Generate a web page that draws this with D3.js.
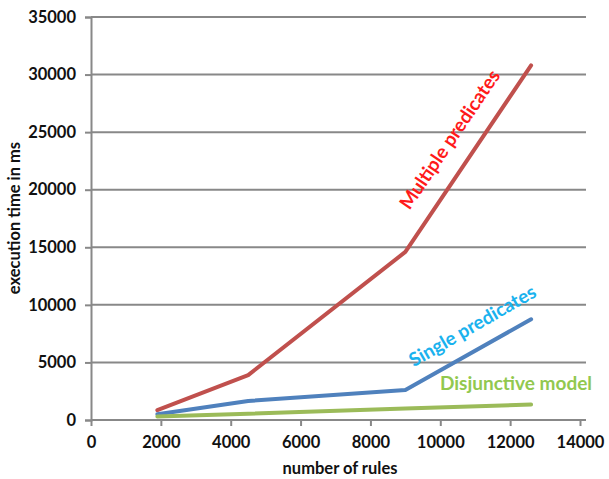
<!DOCTYPE html>
<html><head><meta charset="utf-8">
<script src="https://cdn.jsdelivr.net/npm/d3@7"></script>
<style>body{margin:0;background:#fff}svg{display:block}</style>
</head><body>
<script>
const rules = [1900, 4500, 9000, 12600];
const multiple = [850, 3900, 14600, 30800];
const single = [500, 1650, 2600, 8750];
const disjunctive = [300, 550, 1000, 1350];
const xTicks = [0,2000,4000,6000,8000,10000,12000,14000];
const yTicks = [0,5000,10000,15000,20000,25000,30000,35000];
const seriesNames = ["Multiple predicates","Single predicates","Disjunctive model"];

const W=609,H=479;
const svg=d3.select("body").append("svg").attr("width",W).attr("height",H);
const x=d3.scaleLinear().domain([0,14000]).range([91,580]);
const y=d3.scaleLinear().domain([0,35000]).range([420,17]);
const font="Lato, 'Open Sans', sans-serif";

// gridlines
svg.append("g").selectAll("line").data(yTicks.filter(d=>d>0)).join("line")
 .attr("x1",91).attr("x2",586).attr("y1",d=>y(d)).attr("y2",d=>y(d))
 .attr("stroke","#888").attr("stroke-width",2);

const yAxis=svg.append("g").attr("transform","translate(91,0)")
 .call(d3.axisLeft(y).tickValues(yTicks).tickSize(6).tickPadding(9).tickFormat(d3.format("d")));
const xAxis=svg.append("g").attr("transform","translate(0,420)")
 .call(d3.axisBottom(x).tickValues(xTicks).tickSize(6).tickPadding(10).tickFormat(d3.format("d")));
[yAxis,xAxis].forEach(a=>{
 a.select(".domain").attr("stroke","#888").attr("stroke-width",2);
 a.selectAll(".tick line").attr("stroke","#888").attr("stroke-width",2);
 a.selectAll("text").attr("font-family",font).attr("font-weight","bold").attr("font-size",16.5).attr("fill","#111");
});
xAxis.select(".domain").attr("d","M91,0H586");

const line=d3.line().x((d,i)=>x(rules[i])).y(d=>y(d));
const data=[[multiple,"#c0504d"],[single,"#4f81bd"],[disjunctive,"#9bbb59"]];
data.forEach(([v,c])=>{
 svg.append("path").attr("d",line(v)).attr("fill","none").attr("stroke",c)
  .attr("stroke-width",4).attr("stroke-linejoin","round").attr("stroke-linecap","round");
});

// series labels
svg.append("text").attr("transform","translate(449,139) rotate(-56)").attr("text-anchor","middle")
 .attr("dominant-baseline","central").attr("font-family",font).attr("font-weight","bold").attr("font-size",19)
 .attr("fill","#ff1a1a").text(seriesNames[0]);
svg.append("text").attr("transform","translate(472,325) rotate(-30)").attr("text-anchor","middle")
 .attr("dominant-baseline","central").attr("font-family",font).attr("font-weight","bold").attr("font-size",19)
 .attr("fill","#1ab2ee").text(seriesNames[1]);
svg.append("text").attr("x",516).attr("y",382).attr("text-anchor","middle")
 .attr("dominant-baseline","central").attr("font-family",font).attr("font-weight","bold").attr("font-size",19)
 .attr("fill","#92c84f").text(seriesNames[2]);

// axis titles
svg.append("text").attr("x",340).attr("y",474).attr("text-anchor","middle")
 .attr("font-family",font).attr("font-weight","bold").attr("font-size",16.5).attr("fill","#111").text("number of rules");
svg.append("text").attr("transform","translate(14,218) rotate(-90)").attr("text-anchor","middle").attr("dominant-baseline","central")
 .attr("font-family",font).attr("font-weight","bold").attr("font-size",16.5).attr("fill","#111").text("execution time in ms");
</script>
</body></html>
